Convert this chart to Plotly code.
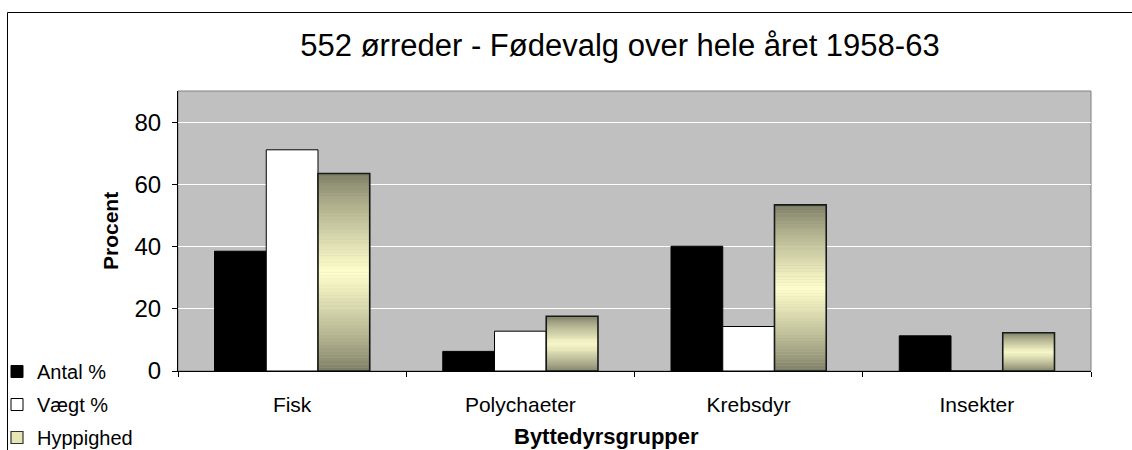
import plotly.graph_objects as go

categories = ["Fisk", "Polychaeter", "Krebsdyr", "Insekter"]
antal = [38.5, 6.3, 40.1, 11.3]
vaegt = [71.1, 12.8, 14.3, 0.0]
hyppighed = [63.5, 17.6, 53.4, 12.3]
series_names = ["Antal %", "Vægt %", "Hyppighed"]
y_ticks = [0, 20, 40, 60, 80]

FONT = "Liberation Sans, Arial, sans-serif"
N_SLICES = 60
DARK = (122, 122, 98)
LIGHT = (255, 255, 204)


def grad_color(t):
    s = 1 - abs(2 * t - 1)
    s = s ** 0.8
    r, g, b = (int(round(d + (l - d) * s)) for d, l in zip(DARK, LIGHT))
    return f"rgb({r},{g},{b})"


fig = go.Figure()

fig.add_trace(go.Bar(
    x=categories, y=antal, name=series_names[0], offsetgroup="a",
    legendgroup="a", marker=dict(color="black", line=dict(color="black", width=1)),
))
fig.add_trace(go.Bar(
    x=categories, y=vaegt, name=series_names[1], offsetgroup="b",
    legendgroup="b", marker=dict(color="white", line=dict(color="black", width=1)),
))

# gradient fill of Hyppighed bars: stacked slices of each bar
for i in range(N_SLICES):
    t = (i + 0.5) / N_SLICES
    fig.add_trace(go.Bar(
        x=categories,
        y=[v / N_SLICES for v in hyppighed],
        base=[v * i / N_SLICES for v in hyppighed],
        offsetgroup="c", showlegend=False, hoverinfo="skip",
        marker=dict(color=grad_color(t), line=dict(width=0.3, color=grad_color(t))),
    ))
# outline of Hyppighed bars
fig.add_trace(go.Bar(
    x=categories, y=hyppighed, offsetgroup="c", showlegend=False,
    name=series_names[2],
    marker=dict(color="rgba(0,0,0,0)", line=dict(color="#1a1a1a", width=1.6)),
))
# legend entry for Hyppighed
fig.add_trace(go.Bar(
    x=categories, y=[None] * len(categories), offsetgroup="c",
    name=series_names[2], legendgroup="c", hoverinfo="skip",
    marker=dict(color="#e6e6b4", line=dict(color="#333333", width=1.2)),
))

W, H = 1132, 450
L, R, T, B = 178, 41, 91, 79
pw, ph = W - L - R, H - T - B


def px_x(p):
    return (p - L) / pw


def px_y(p):
    return (H - B - p) / ph


fig.update_layout(
    width=W, height=H,
    margin=dict(l=L, r=R, t=T, b=B, autoexpand=False),
    paper_bgcolor="white", plot_bgcolor="#c0c0c0",
    barmode="group", bargap=0.32, bargroupgap=0,
    font=dict(family=FONT, color="black"),
    title=dict(text="552 ørreder - Fødevalg over hele året 1958-63",
               x=620 / W, xanchor="center", xref="container",
               y=1 - 45 / H, yanchor="middle", yref="container",
               font=dict(size=31, family=FONT, color="black")),
    showlegend=True,
    legend=dict(
        x=px_x(-3), xref="paper", xanchor="left",
        y=px_y(352), yref="paper", yanchor="top",
        font=dict(size=20, family=FONT, color="black"),
        bgcolor="rgba(0,0,0,0)", traceorder="grouped",
        tracegroupgap=4, itemwidth=30,
    ),
    xaxis=dict(
        type="category", showgrid=False, showline=True, linecolor="black",
        linewidth=1, ticks="outside", ticklen=5, tickcolor="black",
        tickson="boundaries", tickfont=dict(size=21, family=FONT),
        ticklabelstandoff=15, zeroline=False, automargin=False,
    ),
    yaxis=dict(
        range=[0, 90], tickvals=y_ticks, showgrid=True, gridcolor="white",
        gridwidth=1, showline=True, linecolor="black", linewidth=1,
        ticks="outside", ticklen=5, tickcolor="black",
        tickfont=dict(size=24, family=FONT), ticklabelstandoff=6,
        zeroline=False, automargin=False,
    ),
    shapes=[
        dict(type="rect", xref="paper", yref="paper", x0=0, x1=1, y0=0, y1=1,
             line=dict(color="#808080", width=1), layer="below"),
        dict(type="line", xref="paper", yref="paper",
             x0=px_x(7.5), x1=px_x(7.5), y0=px_y(12.5), y1=px_y(470),
             line=dict(color="black", width=1)),
        dict(type="line", xref="paper", yref="paper",
             x0=px_x(7.5), x1=px_x(1160), y0=px_y(12.5), y1=px_y(12.5),
             line=dict(color="black", width=1)),
    ],
    annotations=[
        dict(text="<b>Procent</b>", textangle=-90, xref="paper", yref="paper",
             x=px_x(110), y=px_y(231), xanchor="center", yanchor="middle",
             showarrow=False, font=dict(size=21, family=FONT, color="black")),
        dict(text="<b>Byttedyrsgrupper</b>", xref="paper", yref="paper",
             x=px_x(606), y=px_y(436), xanchor="center", yanchor="middle",
             showarrow=False, font=dict(size=22, family=FONT, color="black")),
    ],
)

fig.write_html(
    "out.html",
    config={"displayModeBar": False},
    post_script="document.body.style.margin='0';document.body.style.padding='0';",
)
